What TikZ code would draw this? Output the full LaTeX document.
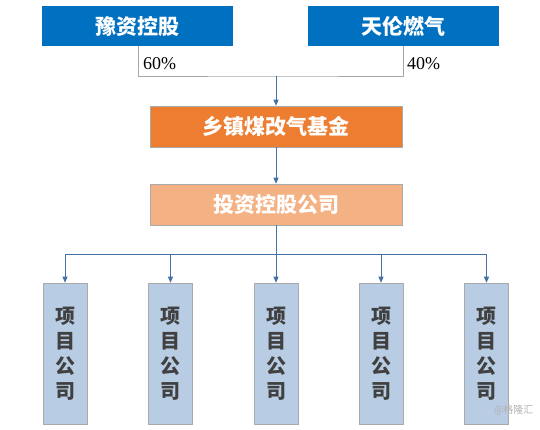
\documentclass[tikz,border=0pt]{standalone}
\usepackage{fontspec}
\setmainfont{Liberation Serif}
\newfontfamily\cjk{Noto Sans CJK SC}
\usetikzlibrary{arrows.meta}
\definecolor{topblue}{RGB}{0,112,192}
\definecolor{orangef}{RGB}{237,125,49}
\definecolor{peach}{RGB}{244,177,131}
\definecolor{lightblue}{RGB}{184,204,228}
\definecolor{boxedge}{RGB}{170,170,170}
\definecolor{linkblue}{RGB}{68,114,164}
\definecolor{txtgray}{RGB}{64,64,64}
\tikzset{
  topbox/.style={draw=none,fill=topblue,minimum width=191pt,minimum height=40pt,inner sep=0pt,text=white,font=\cjk\bfseries\fontsize{21}{24}\selectfont},
  midbox/.style={draw=boxedge,line width=0.6pt,minimum width=252pt,minimum height=41pt,inner sep=0pt,text=white,font=\cjk\bfseries\fontsize{21}{24}\selectfont},
  projbox/.style={draw=boxedge,line width=0.6pt,fill=lightblue,minimum width=44pt,minimum height=141pt,inner sep=0pt,text=txtgray,align=center,font=\cjk\bfseries\fontsize{20}{25}\selectfont},
  grayline/.style={draw=gray!70,line width=0.8pt},
  link/.style={draw=linkblue,line width=0.8pt},
  arr/.style={link,-{Triangle[length=6pt,width=5pt]}},
  pct/.style={font=\fontsize{18}{20}\selectfont,text=black,anchor=west,inner sep=0pt}
}
\begin{document}
\begin{tikzpicture}[x=1pt,y=-1pt]
\useasboundingbox[fill=white] (0,0) rectangle (540,429);
\node[topbox] (yz) at (137.5,26) {豫资控股};
\node[topbox] (tl) at (403,26) {天伦燃气};
\node[midbox,fill=orangef] (fund) at (276,126.5) {乡镇煤改气基金};
\node[midbox,fill=peach] (inv) at (276,204.5) {投资控股公司};
\coordinate (j1) at (276,76);
\coordinate (j2) at (276,254);
\foreach \i/\x in {1/65,2/170.5,3/276,4/381,5/486.5}{
  \node[projbox] (p\i) at (\x,353.5) {项\\目\\公\\司};
}
\draw[grayline] (yz.south -| 138,0) |- (j1) -| (tl.south -| 403,0);
\node[pct] (p60) at (143,64) {60\%};
\node[pct] (p40) at (407,64) {40\%};
\draw[arr] (j1) -- (fund.north);
\draw[arr] (fund.south) -- (inv.north);
\draw[link] (inv.south) -- (j2);
\draw[link] (p1.north |- j2) -- (p5.north |- j2);
\foreach \i in {1,...,5}{
  \draw[arr] (p\i.north |- j2) -- (p\i.north);
}
\node[font=\cjk\fontsize{10}{12}\selectfont,text=gray!60,anchor=east] (wm) at (537,410) {@格隆汇};
\end{tikzpicture}
\end{document}
